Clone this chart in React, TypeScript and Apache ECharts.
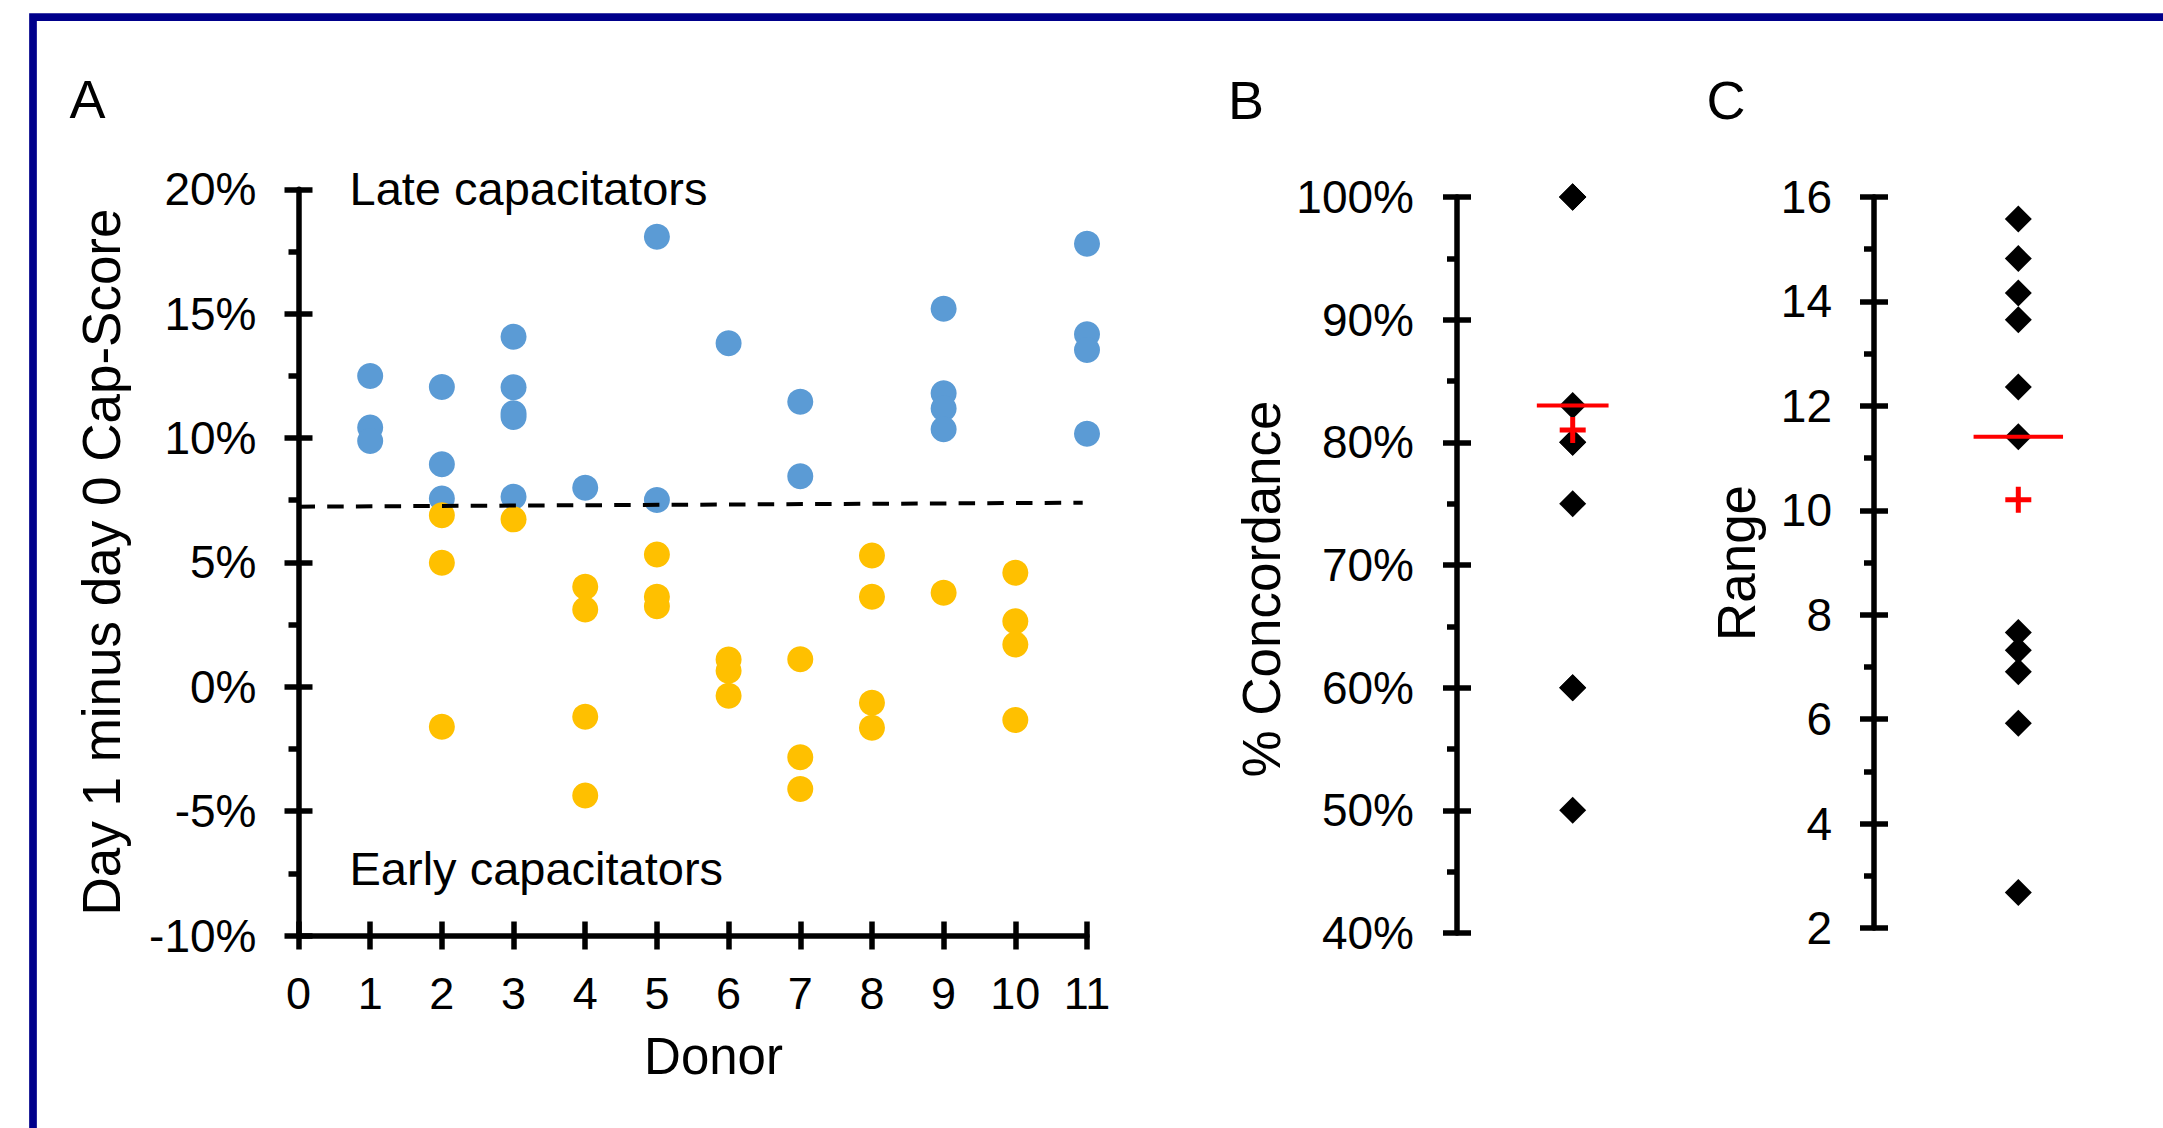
import React, { useEffect, useRef } from "react";
import * as echarts from "echarts";

// ---------- Panel A data ----------
const donorTicks = [0, 1, 2, 3, 4, 5, 6, 7, 8, 9, 10, 11];
const capScoreTicks = [-10, -5, 0, 5, 10, 15, 20];
const lateDonor = [1, 1, 1, 2, 2, 2, 3, 3, 3, 3, 3, 4, 5, 5, 6, 7, 7, 9, 9, 9, 9, 11, 11, 11, 11];
const lateValue = [12.49, 10.42, 9.88, 12.05, 8.95, 7.57, 14.07, 12.04, 11.0, 10.85, 7.64, 8.0, 18.09, 7.51, 13.81, 11.46, 8.46, 15.2, 11.8, 11.19, 10.35, 17.81, 14.17, 13.54, 10.17];
const earlyDonor = [2, 2, 2, 3, 4, 4, 4, 4, 5, 5, 5, 6, 6, 6, 7, 7, 7, 8, 8, 8, 8, 9, 10, 10, 10, 10];
const earlyValue = [6.9, 4.99, -1.61, 6.73, 4.02, 3.11, -1.21, -4.37, 5.32, 3.62, 3.24, 1.1, 0.64, -0.36, 1.11, -2.83, -4.11, 5.28, 3.62, -0.64, -1.65, 3.78, 4.58, 2.63, 1.7, -1.34];
const thresholdX = [0, 10.94];
const thresholdY = [7.24, 7.4];

// ---------- Panel B data ----------
const concordanceTicks = [40, 50, 60, 70, 80, 90, 100];
const concordance = [100, 50, 83, 80, 60, 75, 60, 100, 80, 100, 100];
const concordanceMedian = 83;
const concordanceMean = 81;

// ---------- Panel C data ----------
const rangeTicks = [2, 4, 6, 8, 10, 12, 14, 16];
const rangeValues = [2.68, 13.65, 7.32, 12.36, 14.82, 14.16, 15.58, 6.91, 11.41, 5.92, 7.66];
const rangeMedian = 11.41;
const rangeMean = 10.2;

const FONT = '"Liberation Sans", Arial, Helvetica, sans-serif';
const LW = 5.5;
const BLUE = "#5B9BD5";
const YELLOW = "#FFC000";
const PLUS = "path://M10.5,0h5v10.5h10.5v5h-10.5v10.5h-5v-10.5h-10.5v-5h10.5z";

function yPair(gridIndex: number, ticks: number[], fmt: string, margin: number) {
  const min = ticks[0];
  const max = ticks[ticks.length - 1];
  const interval = ticks[1] - ticks[0];
  const ls = { color: "#000", width: LW };
  return [
    {
      type: "value", gridIndex, min, max, interval, position: "left",
      axisLine: { show: true, onZero: false, lineStyle: ls },
      axisTick: { show: true, length: 14, lineStyle: ls },
      minorTick: { show: true, splitNumber: 2, length: 10, lineStyle: ls },
      axisLabel: { show: true, margin, fontSize: 46, lineHeight: 46, color: "#000", fontFamily: FONT, formatter: fmt },
      splitLine: { show: false }, minorSplitLine: { show: false },
    },
    {
      type: "value", gridIndex, min, max, interval, position: "left",
      axisLine: { show: false, onZero: false },
      axisTick: { show: true, inside: true, length: 14, lineStyle: ls },
      axisLabel: { show: false },
      splitLine: { show: false },
    },
  ];
}

export default function App() {
  const ref = useRef<HTMLDivElement>(null);
  useEffect(() => {
    if (!ref.current) return;
    const chart = echarts.init(ref.current, null, { renderer: "svg" });
    const ls = { color: "#000", width: LW };
    const dMin = donorTicks[0];
    const dMax = donorTicks[donorTicks.length - 1];
    const dInt = donorTicks[1] - donorTicks[0];

    const txt = (text: string, x: number, y: number, size: number, align: string, rot = 0) => ({
      type: "text", x, y, rotation: rot, silent: true,
      style: { text, fontSize: size, fontFamily: FONT, fill: "#000", textAlign: align, textVerticalAlign: "middle", verticalAlign: "middle" },
    });

    const option: any = {
      animation: false,
      backgroundColor: "#fff",
      grid: [
        { left: 298.5, top: 189.3, width: 788.5, height: 746.2 },
        { left: 1457, top: 197, width: 231.4, height: 736 },
        { left: 1874, top: 197, width: 288.6, height: 731 },
      ],
      xAxis: [
        {
          type: "value", gridIndex: 0, min: dMin, max: dMax, interval: dInt, position: "bottom",
          axisLine: { show: true, onZero: false, lineStyle: ls },
          axisTick: { show: true, length: 14, lineStyle: ls },
          axisLabel: { show: true, margin: 35, fontSize: 45, lineHeight: 45, color: "#000", fontFamily: FONT },
          splitLine: { show: false },
        },
        {
          type: "value", gridIndex: 0, min: dMin, max: dMax, interval: dInt, position: "bottom",
          axisLine: { show: false, onZero: false },
          axisTick: { show: true, inside: true, length: 14, lineStyle: ls },
          axisLabel: { show: false },
          splitLine: { show: false },
        },
        { type: "value", gridIndex: 1, min: 0, max: 2, show: false, axisLine: { onZero: false } },
        { type: "value", gridIndex: 2, min: 0, max: 2, show: false, axisLine: { onZero: false } },
      ],
      yAxis: [
        ...yPair(0, capScoreTicks, "{value}%", 42),
        ...yPair(1, concordanceTicks, "{value}%", 43),
        ...yPair(2, rangeTicks, "{value}", 42),
      ],
      series: [
        {
          type: "scatter", xAxisIndex: 0, yAxisIndex: 0, symbol: "circle", symbolSize: 26,
          itemStyle: { color: BLUE, opacity: 1 },
          data: lateDonor.map((d, i) => [d, lateValue[i]]),
        },
        {
          type: "scatter", xAxisIndex: 0, yAxisIndex: 0, symbol: "circle", symbolSize: 26,
          itemStyle: { color: YELLOW, opacity: 1 },
          data: earlyDonor.map((d, i) => [d, earlyValue[i]]),
        },
        {
          type: "line", xAxisIndex: 0, yAxisIndex: 0, showSymbol: false, symbol: "none",
          lineStyle: { color: "#000", width: 4, type: [16.5, 12.2] },
          data: thresholdX.map((x, i) => [x, thresholdY[i]]),
        },
        // Panel B
        {
          type: "line", xAxisIndex: 2, yAxisIndex: 2, symbol: "none",
          lineStyle: { color: "#FF0000", width: 4 },
          data: [[1 - 0.31, concordanceMedian], [1 + 0.31, concordanceMedian]],
        },
        {
          type: "scatter", xAxisIndex: 2, yAxisIndex: 2, symbol: "diamond", symbolSize: 27,
          itemStyle: { color: "#000", opacity: 1 },
          data: concordance.map((v) => [1, v]),
        },
        {
          type: "scatter", xAxisIndex: 2, yAxisIndex: 2, symbol: PLUS, symbolSize: 26,
          itemStyle: { color: "#FF0000", opacity: 1 },
          data: [[1, concordanceMean]],
        },
        // Panel C
        {
          type: "line", xAxisIndex: 3, yAxisIndex: 4, symbol: "none",
          lineStyle: { color: "#FF0000", width: 4 },
          data: [[1 - 0.31, rangeMedian], [1 + 0.31, rangeMedian]],
        },
        {
          type: "scatter", xAxisIndex: 3, yAxisIndex: 4, symbol: "diamond", symbolSize: 27,
          itemStyle: { color: "#000", opacity: 1 },
          data: rangeValues.map((v) => [1, v]),
        },
        {
          type: "scatter", xAxisIndex: 3, yAxisIndex: 4, symbol: PLUS, symbolSize: 26,
          itemStyle: { color: "#FF0000", opacity: 1 },
          data: [[1, rangeMean]],
        },
      ],
      graphic: [
        {
          type: "rect", silent: true,
          shape: { x: 33, y: 17.2, width: 2400, height: 1400 },
          style: { fill: "none", stroke: "#00008B", lineWidth: 7.7 },
        },
        txt("A", 87.5, 99, 54, "center"),
        txt("B", 1246, 99.5, 54, "center"),
        txt("C", 1726, 99.5, 54, "center"),
        txt("Late capacitators", 349.5, 188.3, 47, "left"),
        txt("Early capacitators", 349.5, 868.3, 47, "left"),
        txt("Donor", 713.5, 1056.7, 51, "center"),
        txt("Day 1 minus day 0 Cap-Score", 101.5, 562, 53, "center", Math.PI / 2),
        txt("% Concordance", 1261.5, 589, 53, "center", Math.PI / 2),
        txt("Range", 1736.5, 563, 53, "center", Math.PI / 2),
      ],
    };
    chart.setOption(option);
    return () => chart.dispose();
  }, []);
  return (
    <div
      ref={ref}
      style={{ position: "fixed", left: 0, top: 0, width: 2163, height: 1128, background: "#fff" }}
    />
  );
}
